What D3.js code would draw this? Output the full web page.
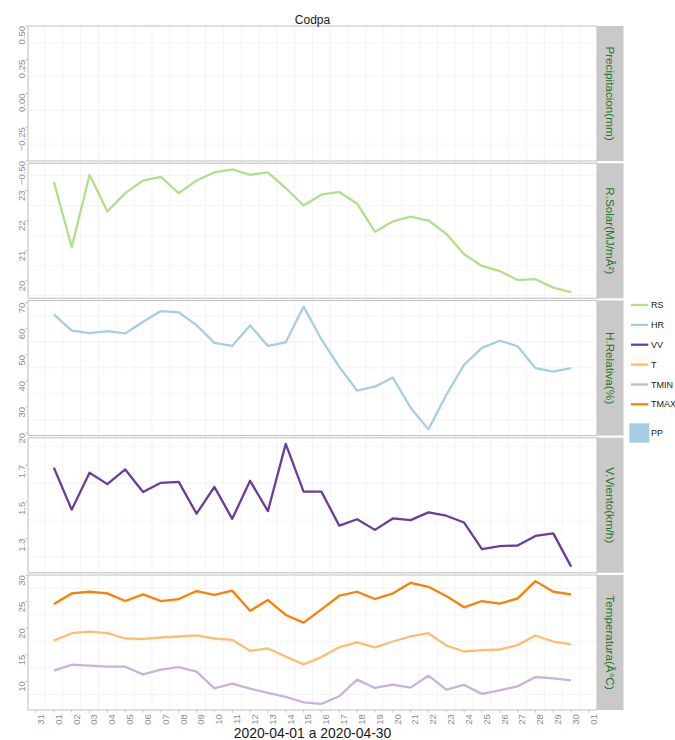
<!DOCTYPE html>
<html>
<head>
<meta charset="utf-8">
<script src="https://cdn.jsdelivr.net/npm/d3@7"></script>
<style>
  body { margin: 0; background: #fff; }
  svg { display: block; }
  text { font-family: "Liberation Sans", Arial, Helvetica, sans-serif; }
</style>
</head>
<body>
<svg id="chart" width="675" height="740"></svg>
<script>
// Daily station record, Codpa, April 2020
const days = [
  "2020-04-01","2020-04-02","2020-04-03","2020-04-04","2020-04-05","2020-04-06",
  "2020-04-07","2020-04-08","2020-04-09","2020-04-10","2020-04-11","2020-04-12",
  "2020-04-13","2020-04-14","2020-04-15","2020-04-16","2020-04-17","2020-04-18",
  "2020-04-19","2020-04-20","2020-04-21","2020-04-22","2020-04-23","2020-04-24",
  "2020-04-25","2020-04-26","2020-04-27","2020-04-28","2020-04-29","2020-04-30"
];

// precipitation (mm)
const pp = [0,0,0,0,0,0,0,0,0,0,0,0,0,0,0,0,0,0,0,0,0,0,0,0,0,0,0,0,0,0];
// solar radiation (MJ/m2)
const rs = [23.29,21.11,23.52,22.30,22.91,23.33,23.45,22.91,23.33,23.60,23.70,23.52,23.60,23.08,22.50,
            22.86,22.95,22.56,21.63,21.97,22.13,22.00,21.56,20.88,20.49,20.32,20.02,20.05,19.77,19.62];
// relative humidity (%)
const hr = [65.5,59.3,58.3,59.1,58.2,62.7,66.8,66.3,61.4,54.6,53.4,61.3,53.4,54.8,68.5,
            55.9,45.4,36.3,37.8,41.3,29.7,21.4,34.6,46.2,52.7,55.4,53.3,44.9,43.6,44.9];
// wind speed (km/h)
const vv = [1.685,1.457,1.658,1.596,1.676,1.553,1.603,1.608,1.435,1.581,1.407,1.614,1.449,1.815,1.555,
            1.555,1.370,1.405,1.347,1.409,1.400,1.442,1.424,1.387,1.242,1.259,1.262,1.314,1.328,1.147];
// mean, minimum and maximum temperature (°C)
const tmean = [17.67,19.06,19.37,19.06,18.06,18.00,18.25,18.44,18.63,18.06,17.81,15.74,16.18,14.68,13.18,
               14.56,16.43,17.31,16.37,17.49,18.44,19.06,16.74,15.61,15.87,15.99,16.81,18.63,17.49,16.93];
const tmin = [11.99,13.11,12.93,12.74,12.74,11.30,12.18,12.68,11.80,8.67,9.55,8.61,7.80,7.05,6.04,
              5.74,7.17,10.30,8.74,9.36,8.80,11.05,8.42,9.30,7.62,8.30,9.05,10.80,10.55,10.17];
const tmax = [24.56,26.56,26.87,26.56,25.12,26.38,25.12,25.50,27.00,26.30,27.06,23.30,25.31,22.50,21.05,
              23.56,26.12,26.87,25.50,26.56,28.56,27.81,26.06,23.94,25.12,24.62,25.63,28.87,26.87,26.38];

// y-axis breaks per facet
const ppTicks = [-0.5, -0.25, 0, 0.25, 0.5];
const rsTicks = [20, 21, 22, 23];
const hrTicks = [20, 30, 40, 50, 60, 70];
const vvTicks = [1.3, 1.5, 1.7];
const tempTicks = [10, 15, 20, 25, 30];

// facet strip labels
const stripLabels = ["Precipitacion(mm)", "R.Solar(MJ/mÂ²)", "H.Relativa(%)", "V.Viento(km/h)", "Temperatura(Â°C)"];

const legendKeys = ["RS", "HR", "VV", "T", "TMIN", "TMAX"];
const colors = {
  RS: "#b2df8a", HR: "#a6cee3", VV: "#6a3d9a",
  T: "#fdbf6f", TMIN: "#cab2d6", TMAX: "#ff7f00", PP: "#a6cee3"
};

const title = "Codpa";
const xTitle = "2020-04-01 a 2020-04-30";

// ---------------------------------------------------------------
const svg = d3.select("#chart");
const panelLeft = 28, panelRight = 597, stripW = 26.5;
const firstTop = 26, panelH = 135, gap = 2.25;
const gridColor = "#efefef", borderColor = "#c4c4c4", tickColor = "#bdbdbd", axisText = "#8c8c8c";

const parse = d3.utcParse("%Y-%m-%d");
const dates = days.map(parse);
const span = dates[dates.length - 1] - dates[0];
const x = d3.scaleUtc()
  .domain([new Date(+dates[0] - 0.05 * span), new Date(+dates[dates.length - 1] + 0.05 * span)])
  .range([panelLeft, panelRight]);

const xTicks = d3.utcDay.range(d3.utcDay.ceil(x.domain()[0]), x.domain()[1]);
const halfDay = 12 * 3600 * 1000;
const xMinor = [];
xTicks.forEach((t, i) => {
  if (i < xTicks.length - 1) xMinor.push(new Date(+t + halfDay));
});

const panels = [
  { strip: stripLabels[0], ticks: ppTicks, fmt: d3.format(".2f"), bars: pp, series: [] },
  { strip: stripLabels[1], ticks: rsTicks, fmt: d3.format("d"), series: [{ key: "RS", values: rs }] },
  { strip: stripLabels[2], ticks: hrTicks, fmt: d3.format("d"), series: [{ key: "HR", values: hr }] },
  { strip: stripLabels[3], ticks: vvTicks, fmt: d3.format(".1f"), series: [{ key: "VV", values: vv }] },
  { strip: stripLabels[4], ticks: tempTicks, fmt: d3.format("d"),
    series: [{ key: "TMAX", values: tmax }, { key: "T", values: tmean }, { key: "TMIN", values: tmin }] }
];

panels.forEach((p, i) => {
  const top = firstTop + i * (panelH + gap);
  const bottom = top + panelH;

  // y domain with 5% padding (unit padding when the data have no spread)
  let vals = [];
  p.series.forEach(s => vals = vals.concat(s.values));
  if (p.bars) vals = vals.concat(p.bars, [0]);
  let [lo, hi] = d3.extent(vals);
  if (hi === lo) { lo -= 0.5; hi += 0.5; }
  else { const pad = 0.05 * (hi - lo); lo -= pad; hi += pad; }
  const y = d3.scaleLinear().domain([lo, hi]).range([bottom, top]);

  const g = svg.append("g");

  g.append("rect").attr("x", panelLeft).attr("y", top)
    .attr("width", panelRight - panelLeft).attr("height", panelH).attr("fill", "#fff");

  // minor grid
  const step = p.ticks[1] - p.ticks[0];
  const yMinor = p.ticks.map(t => t - step / 2).concat([p.ticks[p.ticks.length - 1] + step / 2])
    .filter(v => v > lo && v < hi);
  g.selectAll(".hg").data(yMinor).join("line")
    .attr("x1", panelLeft).attr("x2", panelRight)
    .attr("y1", d => y(d)).attr("y2", d => y(d))
    .attr("stroke", gridColor).attr("stroke-width", 0.7);
  g.selectAll(".vg").data(xMinor).join("line")
    .attr("x1", d => x(d)).attr("x2", d => x(d))
    .attr("y1", top).attr("y2", bottom)
    .attr("stroke", gridColor).attr("stroke-width", 0.7);

  // precipitation bars
  if (p.bars) {
    const bw = (x(dates[1]) - x(dates[0])) * 0.9;
    g.selectAll(".bar").data(p.bars).join("rect")
      .attr("x", (d, k) => x(dates[k]) - bw / 2)
      .attr("y", d => y(Math.max(0, d)))
      .attr("width", bw)
      .attr("height", d => Math.abs(y(d) - y(0)))
      .attr("fill", colors.PP);
  }

  // series lines
  const line = d3.line().x((d, k) => x(dates[k])).y(d => y(d));
  p.series.forEach(s => {
    g.append("path").datum(s.values)
      .attr("d", line)
      .attr("fill", "none")
      .attr("stroke", colors[s.key])
      .attr("stroke-width", 2.3)
      .attr("stroke-linejoin", "round");
  });

  // panel border
  g.append("rect").attr("x", panelLeft).attr("y", top)
    .attr("width", panelRight - panelLeft).attr("height", panelH)
    .attr("fill", "none").attr("stroke", borderColor).attr("stroke-width", 1.1);

  // y ticks and labels
  g.selectAll(".yt").data(p.ticks).join("line")
    .attr("x1", panelLeft - 2.7).attr("x2", panelLeft)
    .attr("y1", d => y(d)).attr("y2", d => y(d))
    .attr("stroke", tickColor).attr("stroke-width", 0.9);
  g.selectAll(".yl").data(p.ticks).join("text")
    .attr("transform", d => `translate(24.5,${y(d)}) rotate(-90)`)
    .attr("text-anchor", "end")
    .attr("font-size", 9.5)
    .attr("fill", axisText)
    .text(d => p.fmt(d));

  // facet strip
  g.append("rect").attr("x", panelRight).attr("y", top)
    .attr("width", stripW).attr("height", panelH).attr("fill", "#c9c9c9");
  g.append("text")
    .attr("transform", `translate(${panelRight + stripW / 2},${top + panelH / 2}) rotate(90)`)
    .attr("text-anchor", "middle")
    .attr("dy", "0.35em")
    .attr("font-size", 11.7)
    .attr("fill", "#217821")
    .text(p.strip);

  // shared date axis under the last facet
  if (i === panels.length - 1) {
    svg.selectAll(".xt").data(xTicks).join("line")
      .attr("x1", d => x(d)).attr("x2", d => x(d))
      .attr("y1", bottom).attr("y2", bottom + 2.7)
      .attr("stroke", tickColor).attr("stroke-width", 0.9);
    svg.selectAll(".xl").data(xTicks).join("text")
      .attr("transform", d => `translate(${x(d) + 7.8},${bottom + 4.2}) rotate(-90)`)
      .attr("text-anchor", "end")
      .attr("font-size", 9.5)
      .attr("fill", axisText)
      .text(d => d3.utcFormat("%d")(d));
  }
});

// title and x-axis title
const midX = (panelLeft + panelRight) / 2;
svg.append("text").attr("x", midX).attr("y", 23.6)
  .attr("text-anchor", "middle").attr("font-size", 12).attr("fill", "#1a1a1a").text(title);
svg.append("text").attr("x", midX).attr("y", 737.5)
  .attr("text-anchor", "middle").attr("font-size", 13.9).attr("fill", "#1a1a1a").text(xTitle);

// legend
const lg = svg.append("g");
const legY = d3.scalePoint().domain(legendKeys).range([305, 404.3]);
legendKeys.forEach(k => {
  lg.append("line").attr("x1", 631).attr("x2", 648.3)
    .attr("y1", legY(k)).attr("y2", legY(k))
    .attr("stroke", colors[k]).attr("stroke-width", 2.3);
  lg.append("text").attr("x", 651).attr("y", legY(k)).attr("dy", "0.35em")
    .attr("font-size", 9).attr("fill", "#1a1a1a").text(k);
});
lg.append("rect").attr("x", 629.3).attr("y", 423.3).attr("width", 20).attr("height", 19.4)
  .attr("fill", colors.PP);
lg.append("text").attr("x", 651).attr("y", 433).attr("dy", "0.35em")
  .attr("font-size", 9).attr("fill", "#1a1a1a").text("PP");
</script>
</body>
</html>
